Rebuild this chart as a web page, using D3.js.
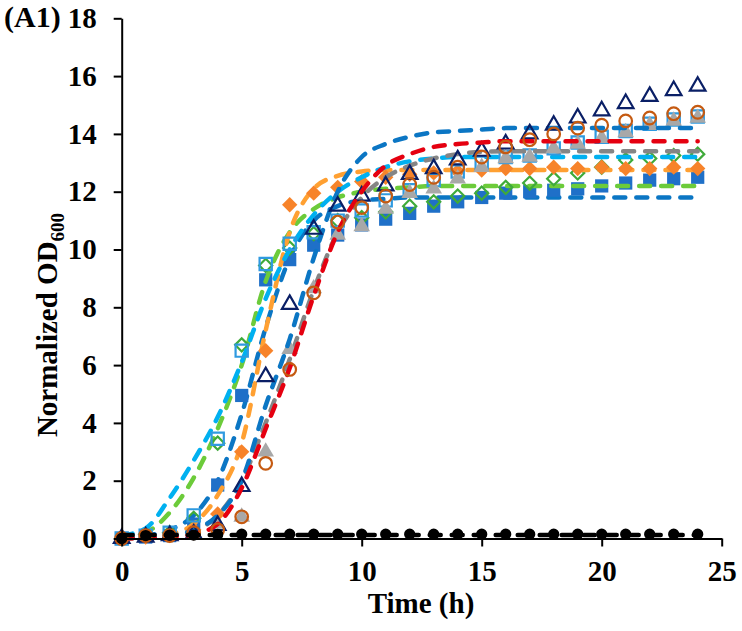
<!DOCTYPE html>
<html>
<head>
<meta charset="utf-8">
<script src="https://cdn.jsdelivr.net/npm/d3@7"></script>
<style>
  body { margin: 0; background: #fff; }
  svg text { font-family: "Liberation Serif", "Times New Roman", serif; font-weight: bold; fill: #000; }
</style>
</head>
<body>
<svg id="chart" width="742" height="631"></svg>
<script>
// sampling times (h)
const hours = [0,1,2,3,4,5,6,7,8,9,10,11,12,13,14,15,16,17,18,19,20,21,22,23,24];
const xTicks = [0,5,10,15,20,25];
const yTicks = [0,2,4,6,8,10,12,14,16,18];

// measured points
const ctrlPts   = [0,0.1,0.12,0.12,0.14,0.15,0.15,0.15,0.15,0.15,0.15,0.15,0.15,0.15,0.15,0.15,0.15,0.15,0.15,0.15,0.15,0.15,0.15,0.15,0.15];
const bluePts   = [0,0.05,0.1,0.5,1.85,4.95,8.95,9.65,10.15,10.5,10.85,11.05,11.25,11.5,11.65,11.8,11.95,12.0,12.05,12.1,12.2,12.3,12.4,12.45,12.5];
const lightPts  = [0,0.1,0.2,0.8,3.45,6.5,9.5,10.2,10.6,11.0,11.35,11.7,12.05,12.4,12.7,13.0,13.2,13.25,13.5,13.7,13.9,14.1,14.35,14.5,14.6];
const greenPts  = [0,0.15,0.2,0.7,3.3,6.7,9.45,10.05,10.55,11.0,11.1,11.3,11.5,11.65,11.85,11.95,12.15,12.3,12.45,12.65,12.85,13.1,13.15,13.25,13.3];
const orangePts = [0,0.05,0.1,0.3,0.85,3.0,6.5,11.55,11.95,12.15,12.35,12.5,12.6,12.65,12.7,12.75,12.8,12.8,12.85,12.8,12.85,12.8,12.8,12.85,12.8];
const grayPts   = [0,0.05,0.1,0.2,0.5,0.75,3.0,6.55,8.65,10.5,10.8,11.4,11.95,12.1,12.45,12.85,13.15,13.2,13.5,13.65,13.85,14.05,14.3,14.45,14.55];
const navyPts   = [0,0.05,0.1,0.15,0.45,1.8,5.6,8.1,10.7,11.5,11.85,12.2,12.6,12.8,13.1,13.4,13.65,14.0,14.3,14.55,14.8,15.05,15.3,15.5,15.65];
const brownPts  = [0,0.1,0.1,0.2,0.3,0.75,2.6,5.85,8.5,10.95,11.45,11.85,12.25,12.5,12.85,13.2,13.55,13.8,14.0,14.2,14.3,14.45,14.55,14.7,14.75];

// fitted curves, read hourly
const ctrlFit   = [0.12,0.12,0.12,0.12,0.12,0.12,0.12,0.12,0.12,0.12,0.12,0.12,0.12,0.12,0.12,0.12,0.12,0.12,0.12,0.12,0.12,0.12,0.12,0.12,0.12];
const blueFit   = [0.05,0.1,0.3,0.8,2.0,4.3,7.3,9.7,11.0,11.5,11.7,11.75,11.8,11.8,11.8,11.8,11.8,11.8,11.8,11.8,11.8,11.8,11.8,11.8,11.8];
const lightFit  = [0.1,0.35,1.4,2.7,4.2,6.1,8.3,10.0,11.2,12.0,12.5,12.85,13.05,13.15,13.2,13.2,13.2,13.2,13.2,13.2,13.2,13.2,13.2,13.2,13.2];
const greenFit  = [0,0.2,0.9,2.1,3.8,6.0,8.9,10.6,11.4,11.8,12.0,12.1,12.15,12.2,12.2,12.2,12.2,12.2,12.2,12.2,12.2,12.2,12.2,12.2,12.2];
const orangeFit = [0,0.05,0.15,0.5,1.5,3.3,7.2,10.6,12.1,12.55,12.7,12.75,12.75,12.75,12.75,12.75,12.75,12.75,12.75,12.75,12.75,12.75,12.75,12.75,12.75];
const grayFit   = [0,0.02,0.08,0.25,0.8,2.0,4.0,6.2,8.6,10.6,11.8,12.5,12.9,13.15,13.3,13.38,13.4,13.4,13.4,13.4,13.4,13.4,13.4,13.4,13.4];
const navyFit   = [0,0.05,0.1,0.3,0.8,2.0,4.6,6.9,9.7,12.0,13.2,13.65,13.9,14.05,14.1,14.15,14.2,14.2,14.2,14.2,14.2,14.2,14.2,14.2,14.2];
const redFit    = [0,0.02,0.05,0.15,0.5,1.75,3.8,5.9,8.4,10.6,12.0,12.9,13.3,13.55,13.65,13.7,13.75,13.75,13.75,13.75,13.75,13.75,13.75,13.75,13.75];

const series = [
  { pts: bluePts,   fit: blueFit,   line: '#0B76C4', shape: 'square',   fill: '#1F70C8', stroke: 'none',    size: 175 },
  { pts: greenPts,  fit: greenFit,  line: '#6CCB3A', shape: 'diamond',  fill: 'none',    stroke: '#3FAA3A', size: 110 },
  { pts: orangePts, fit: orangeFit, line: '#FFA032', shape: 'diamond',  fill: '#F7832A', stroke: 'none',    size: 150 },
  { pts: lightPts,  fit: lightFit,  line: '#00B0F0', shape: 'square',   fill: 'none',    stroke: '#2F9AE0', size: 150 },
  { pts: grayPts,   fit: grayFit,   line: '#858585', shape: 'triangle', fill: '#A8A8A8', stroke: 'none',    size: 120 },
  { pts: navyPts,   fit: navyFit,   line: '#0B76C4', shape: 'triangle', fill: 'none',    stroke: '#0A1F66', size: 105 },
  { pts: brownPts,  fit: redFit,    line: '#E50010', shape: 'circle',   fill: 'none',    stroke: '#C55A11', size: 125 },
  { pts: ctrlPts,   fit: ctrlFit,   line: '#000000', shape: 'circle',   fill: '#000000', stroke: 'none',    size: 100 }
];

const svg = d3.select('#chart');

const x = d3.scaleLinear().domain([0, 25]).range([121.7, 721.7]);
const y = d3.scaleLinear().domain([0, 18]).range([538.5, 18.3]);

const shapes = {
  square: d3.symbolSquare,
  diamond: d3.symbolDiamond2 || d3.symbolDiamond,
  triangle: d3.symbolTriangle,
  circle: d3.symbolCircle
};

const line = d3.line()
  .x((d, i) => x(hours[i]))
  .y(d => y(d))
  .curve(d3.curveMonotoneX);

// each series: fitted dashed line then its markers
series.forEach(s => {
  const g = svg.append('g');
  g.append('path')
    .attr('d', line(s.fit))
    .attr('fill', 'none')
    .attr('stroke', s.line)
    .attr('stroke-width', 4.5)
    .attr('stroke-linecap', 'round')
    .attr('stroke-dasharray', '11,11');

  g.selectAll('path.pt')
    .data(s.pts)
    .enter()
    .append('path')
    .attr('class', 'pt')
    .attr('transform', (d, i) => `translate(${x(hours[i])},${y(d)})`)
    .attr('d', d3.symbol().type(shapes[s.shape]).size(s.size))
    .attr('fill', s.fill)
    .attr('stroke', s.stroke)
    .attr('stroke-width', 2.2);
});

// axes
const xAxis = svg.append('g')
  .attr('transform', `translate(0,${y(0)})`)
  .call(d3.axisBottom(x).tickValues(xTicks).tickSize(8).tickSizeOuter(0).tickPadding(14));

const yAxis = svg.append('g')
  .attr('transform', `translate(${x(0)},0)`)
  .call(d3.axisLeft(y).tickValues(yTicks).tickSize(8).tickSizeOuter(0).tickPadding(17));

[xAxis, yAxis].forEach(a => {
  a.selectAll('path, line').attr('stroke', '#000').attr('stroke-width', 2);
  a.selectAll('text').attr('font-size', 29).attr('fill', '#000');
});

svg.append('text')
  .attr('x', 421)
  .attr('y', 613)
  .attr('text-anchor', 'middle')
  .attr('font-size', 29)
  .text('Time (h)');

const yl = svg.append('text')
  .attr('transform', 'translate(57,325) rotate(-90)')
  .attr('text-anchor', 'middle')
  .attr('font-size', 29);
yl.append('tspan').text('Normalized OD');
yl.append('tspan').attr('font-size', 19).attr('dy', 7).text('600');

svg.append('text')
  .attr('x', 4)
  .attr('y', 27)
  .attr('font-size', 30)
  .text('(A1)');
</script>
</body>
</html>
